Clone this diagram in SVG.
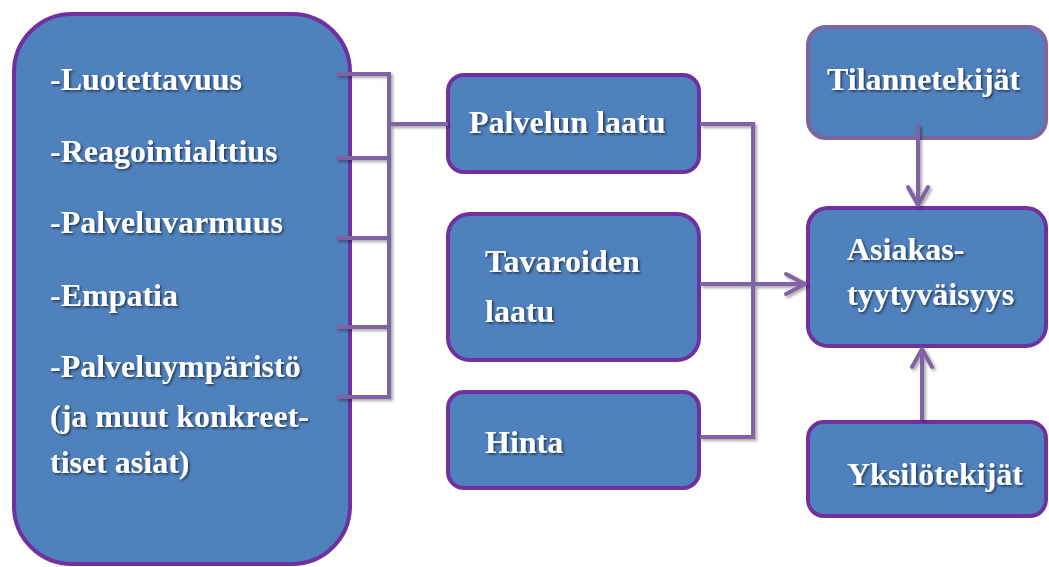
<svg xmlns="http://www.w3.org/2000/svg" width="1049" height="567" viewBox="0 0 1049 567">
<defs>
<style>
.box{fill:#4F81BD;stroke:#7030A0;stroke-width:4}
.box2{fill:#4F81BD;stroke:#8064A2;stroke-width:4}
.t{font-family:"Liberation Serif","Times New Roman",serif;font-weight:bold;font-size:32px;fill:#FFFFFF;filter:url(#ts)}
.c{fill:none;stroke:#8064A2;stroke-width:4;stroke-linejoin:miter}
.ah{fill:none;stroke:#8064A2;stroke-width:4;stroke-linecap:round;stroke-linejoin:round}
</style>
<filter id="ts" x="-10%" y="-30%" width="120%" height="160%">
<feDropShadow dx="1.5" dy="1.5" stdDeviation="1" flood-color="#000" flood-opacity="0.6"/>
</filter>
<filter id="ls" x="-10%" y="-10%" width="120%" height="120%">
<feDropShadow dx="2" dy="2" stdDeviation="1.5" flood-color="#000" flood-opacity="0.35"/>
</filter>
</defs>
<g id="node-dimensions">
<rect class="box" x="14" y="14" width="336" height="550" rx="58" ry="58"/>
<text class="t" x="50" y="90">-Luotettavuus</text>
<text class="t" x="50" y="162">-Reagointialttius</text>
<text class="t" x="50" y="233">-Palveluvarmuus</text>
<text class="t" x="50" y="306">-Empatia</text>
<text class="t" x="50" y="377">-Palveluympäristö</text>
<text class="t" x="50" y="427">(ja muut konkreet-</text>
<text class="t" x="50" y="473">tiset asiat)</text>
</g>
<g id="node-palvelun-laatu">
<rect class="box" x="448" y="75" width="251" height="97" rx="16" ry="16"/>
<text class="t" x="469" y="133">Palvelun laatu</text>
</g>
<g id="node-tavaroiden-laatu">
<rect class="box" x="448" y="214" width="251" height="146" rx="22" ry="22"/>
<text class="t" x="485" y="272">Tavaroiden</text>
<text class="t" x="485" y="322">laatu</text>
</g>
<g id="node-hinta">
<rect class="box" x="448" y="392" width="251" height="96" rx="16" ry="16"/>
<text class="t" x="485" y="453">Hinta</text>
</g>
<g id="node-tilannetekijat">
<rect class="box2" x="808" y="27" width="238" height="111" rx="18" ry="18"/>
<text class="t" x="827" y="90">Tilannetekijät</text>
</g>
<g id="node-asiakastyytyvaisyys">
<rect class="box" x="808" y="208" width="238" height="138" rx="20" ry="20"/>
<text class="t" x="847" y="260">Asiakas-</text>
<text class="t" x="847" y="305">tyytyväisyys</text>
</g>
<g id="node-yksilotekijat">
<rect class="box" x="808" y="422" width="238" height="94" rx="16" ry="16"/>
<text class="t" x="847" y="485">Yksilötekijät</text>
</g>
<g id="connectors" filter="url(#ls)">
<path class="c" d="M336,74 H389 M336,158 H389 M336,238 H389 M336,327 H389 M336,397 H389 M389,72 V399 M389,124 H448"/>
<path class="c" d="M700,124 H753 M753,122 V439 M700,437 H753 M700,284 H803"/>
<path class="ah" d="M786,274 L805,284 L786,294"/>
<path class="c" d="M918,125 V203"/>
<path class="ah" d="M908,187 L918,205 L928,187"/>
<path class="c" d="M922,420 V351"/>
<path class="ah" d="M912,367 L922,349 L932,367"/>
</g>
</svg>
